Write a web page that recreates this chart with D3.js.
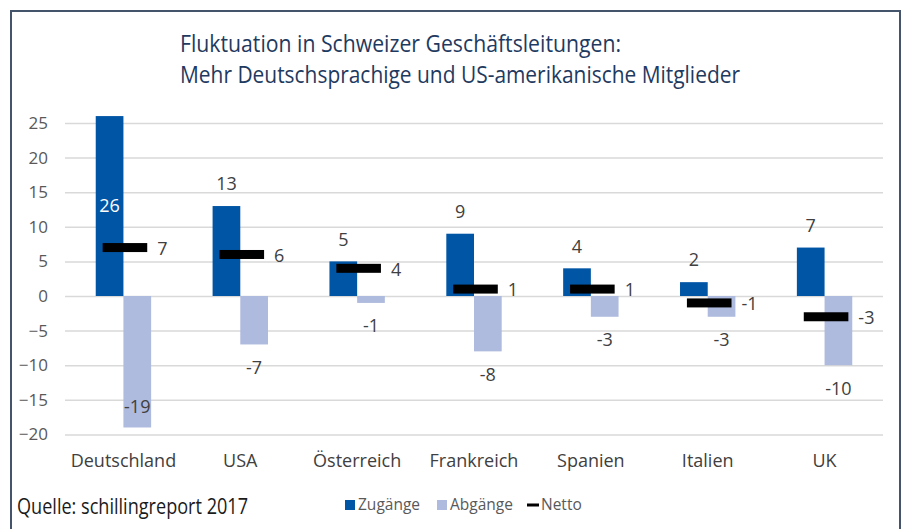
<!DOCTYPE html>
<html>
<head>
<meta charset="utf-8">
<script src="https://cdn.jsdelivr.net/npm/d3@7"></script>
<style>
  body { margin: 0; background: #fff; }
  svg { display: block; font-family: "Open Sans", "Noto Sans", sans-serif; }
</style>
</head>
<body>
<div id="chart"></div>
<script>
// data
var categories = ["Deutschland", "USA", "Österreich", "Frankreich", "Spanien", "Italien", "UK"];
var zugaenge = [26, 13, 5, 9, 4, 2, 7];
var abgaenge = [-19, -7, -1, -8, -3, -3, -10];
var netto = [7, 6, 4, 1, 1, -1, -3];
var yTicks = [-20, -15, -10, -5, 0, 5, 10, 15, 20, 25];
var seriesNames = ["Zugänge", "Abgänge", "Netto"];

var width = 906, height = 529;
var colZu = "#0055a5", colAb = "#aebade", colNet = "#000000";

var svg = d3.select("#chart").append("svg")
    .attr("width", width)
    .attr("height", height);

// frame
svg.append("rect")
    .attr("x", 11).attr("y", 11)
    .attr("width", 889).attr("height", 540)
    .attr("fill", "none")
    .attr("stroke", "#44546a")
    .attr("stroke-width", 2);

// title
var title = svg.append("g").attr("fill", "#1f3a5f").style("font-size", "24px");
title.append("text").attr("x", 180).attr("y", 52)
    .attr("textLength", 441).attr("lengthAdjust", "spacingAndGlyphs")
    .text("Fluktuation in Schweizer Geschäftsleitungen:");
title.append("text").attr("x", 180).attr("y", 83)
    .attr("textLength", 560).attr("lengthAdjust", "spacingAndGlyphs")
    .text("Mehr Deutschsprachige und US-amerikanische Mitglieder");

// scales
var x = d3.scaleBand()
    .domain(categories)
    .range([65, 883]);

var y = d3.scaleLinear()
    .domain([-20, 25])
    .range([434.4, 123]);

var bw = x.bandwidth() * 0.237;
function mid(d) { return x(d) + x.bandwidth() / 2; }

// y axis + gridlines
var yAxis = svg.append("g")
    .attr("transform", "translate(65,0)")
    .call(d3.axisLeft(y).tickValues(yTicks).tickSize(-(883 - 65)).tickPadding(17));
yAxis.select(".domain").remove();
yAxis.selectAll(".tick line").attr("stroke", "#d9d9d9").attr("stroke-width", 1.5);
yAxis.selectAll(".tick text")
    .attr("fill", "#595959")
    .style("font-size", "17px")
    .style("font-family", "\"Open Sans\", sans-serif");

// category labels
svg.append("g").selectAll("text")
    .data(categories)
    .enter().append("text")
    .attr("x", function(d) { return mid(d); })
    .attr("y", 467)
    .attr("text-anchor", "middle")
    .attr("fill", "#404040")
    .style("font-size", "18px")
    .text(function(d) { return d; });

// Zugänge bars
svg.append("g").selectAll("rect")
    .data(categories)
    .enter().append("rect")
    .attr("x", function(d) { return mid(d) - bw; })
    .attr("y", function(d, i) { return y(zugaenge[i]); })
    .attr("width", bw)
    .attr("height", function(d, i) { return y(0) - y(zugaenge[i]); })
    .attr("fill", colZu);

// Abgänge bars
svg.append("g").selectAll("rect")
    .data(categories)
    .enter().append("rect")
    .attr("x", function(d) { return mid(d); })
    .attr("y", y(0))
    .attr("width", bw)
    .attr("height", function(d, i) { return y(abgaenge[i]) - y(0); })
    .attr("fill", colAb);

// Netto markers
svg.append("g").selectAll("rect")
    .data(categories)
    .enter().append("rect")
    .attr("x", function(d) { return mid(d) + 1.5 - 22.3; })
    .attr("y", function(d, i) { return y(netto[i]) - 4.5; })
    .attr("width", 44.6)
    .attr("height", 9)
    .attr("fill", colNet);

// labels
var lab = svg.append("g").style("font-size", "18px");

lab.selectAll("text.zu")
    .data(categories)
    .enter().append("text")
    .attr("class", "zu")
    .attr("x", function(d) { return mid(d) - bw / 2; })
    .attr("y", function(d, i) {
        var v = zugaenge[i];
        return v > y.domain()[1] ? y(v / 2) : y(v) - 22;
    })
    .attr("dy", "0.35em")
    .attr("text-anchor", "middle")
    .attr("fill", function(d, i) { return zugaenge[i] > y.domain()[1] ? "#ffffff" : "#404040"; })
    .text(function(d, i) { return zugaenge[i]; });

lab.selectAll("text.ab")
    .data(categories)
    .enter().append("text")
    .attr("class", "ab")
    .attr("x", function(d) { return mid(d) + bw / 2; })
    .attr("y", function(d, i) {
        var v = abgaenge[i];
        return y(v) + 24 > y(y.domain()[0]) ? y(v) - 21 : y(v) + 23;
    })
    .attr("dy", "0.35em")
    .attr("text-anchor", "middle")
    .attr("fill", "#404040")
    .text(function(d, i) { return abgaenge[i]; });

lab.selectAll("text.net")
    .data(categories)
    .enter().append("text")
    .attr("class", "net")
    .attr("x", function(d) { return mid(d) + 1.5 + 22.3 + 10; })
    .attr("y", function(d, i) { return y(netto[i]) + 1; })
    .attr("dy", "0.35em")
    .attr("fill", "#404040")
    .text(function(d, i) { return netto[i]; });

// source
svg.append("text")
    .attr("x", 17).attr("y", 514)
    .attr("textLength", 231).attr("lengthAdjust", "spacingAndGlyphs")
    .attr("fill", "#1a1a1a")
    .style("font-size", "21px")
    .text("Quelle: schillingreport 2017");

// legend
var legend = svg.append("g").style("font-size", "15.5px").attr("fill", "#595959");
var legX = [345, 437, 527];
seriesNames.forEach(function(name, i) {
    var g = legend.append("g").attr("transform", "translate(" + legX[i] + ",505)");
    if (i < 2) {
        g.append("rect").attr("x", 0).attr("y", -5).attr("width", 10).attr("height", 10)
            .attr("fill", i === 0 ? colZu : colAb);
    } else {
        g.append("rect").attr("x", 0).attr("y", -1.5).attr("width", 12).attr("height", 3)
            .attr("fill", colNet);
    }
    g.append("text").attr("x", i < 2 ? 13 : 14).attr("y", 0).attr("dy", "0.35em").text(name);
});
</script>
</body>
</html>
